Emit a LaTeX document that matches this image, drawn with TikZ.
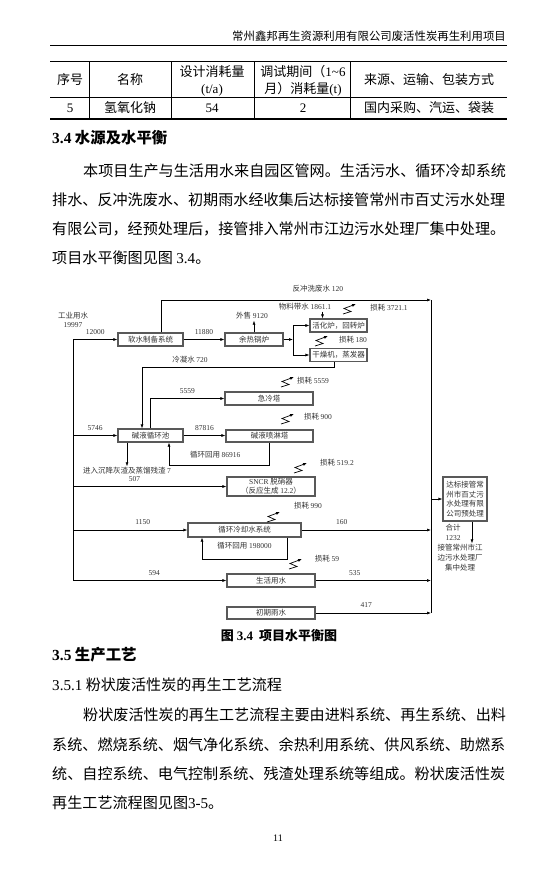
\documentclass[tikz,border=0pt]{standalone}
\usepackage{fontspec}
\setmainfont{Noto Sans CJK SC}
\newfontfamily\lat{Liberation Serif}
\usetikzlibrary{arrows.meta, positioning, calc}
\newcommand\dg[1]{{\lat #1}}
\tikzset{
  unit/.style ={rectangle, draw=black!65, line width=1.1pt, inner sep=0pt, align=center, text=black!80, font=\fontsize{7.5}{9}\selectfont},
  val/.style  ={inner sep=1pt, align=center, text=black!80, font=\fontsize{7.5}{9}\selectfont},
  fl/.style   ={-{Latex[length=4pt,width=3pt]}, line width=0.6pt},
  ln/.style   ={line width=0.6pt},
  body/.style ={anchor=west, inner sep=0pt, font=\fontsize{15.1}{18}\selectfont},
  cell/.style ={inner sep=0pt, align=center, font=\fontsize{13}{17}\selectfont},
  loss/.pic   ={\draw[-{Latex[length=4pt,width=3pt]}, line width=0.7pt] (0,0) -- (8,-2.5) -- (1,-5.5) -- (13,-10);},
}
\begin{document}
\begin{tikzpicture}[x=1pt, y=-1pt, >=Latex]
  \fill[white] (0,0) rectangle (554,882);
  \useasboundingbox (0,0) rectangle (554,882);

  % page header
  \node[anchor=east, inner sep=0pt, font=\fontsize{11.4}{12}\selectfont] (hdr) at (506,36) {常州鑫邦再生资源利用有限公司废活性炭再生利用项目};
  \draw[line width=0.8pt] (50,45) -- (507,45);

  % table
  \draw[line width=1.5pt] (50,61.7) -- (507,61.7);
  \draw[line width=0.6pt] (50,97.3) -- (507,97.3);
  \draw[line width=1.5pt] (50,119) -- (507,119);
  \foreach \x in {89,171,254,350} \draw[line width=0.6pt] (\x,61.7) -- (\x,119);
  \node[cell] (h1) at (70,80) {序号};
  \node[cell] (h2) at (130,80) {名称};
  \node[cell] (h3) at (212,80.5) {设计消耗量\\\dg{(t/a)}};
  \node[cell] (h4) at (303,80.5) {调试期间（\dg{1\textasciitilde 6}\\月）消耗量\dg{(t)}};
  \node[cell] (h5) at (429,80) {来源、运输、包装方式};
  \node[cell] (r1) at (70,108) {\dg{5}};
  \node[cell] (r2) at (130,108) {氢氧化钠};
  \node[cell] (r3) at (212,108) {\dg{54}};
  \node[cell] (r4) at (303,108) {\dg{2}};
  \node[cell] (r5) at (429,108) {国内采购、汽运、袋装};

  % section 3.4
  \node[body, font=\fontsize{15.4}{18}\selectfont\bfseries] (s34) at (52,137.7) {\dg{3.4} 水源及水平衡};
  \node[body] (p1) at (83,171) {本项目生产与生活用水来自园区管网。生活污水、循环冷却系统};
  \node[body] (p2) at (52,200) {排水、反冲洗废水、初期雨水经收集后达标接管常州市百丈污水处理};
  \node[body] (p3) at (52,229) {有限公司，经预处理后，接管排入常州市江边污水处理厂集中处理。};
  \node[body] (p4) at (52,258) {项目水平衡图见图 \dg{3.4}。};

  % water balance diagram
  \node[val] (src) at (73,319.5) {工业用水\\\dg{19997}};
  \node[unit, minimum width=65, minimum height=13] (soft) at (150.5,339.5) {软水制备系统};
  \node[unit, minimum width=58, minimum height=13] (boiler) at (254,339.5) {余热锅炉};
  \node[unit, minimum width=57, minimum height=13] (act) at (338.5,325.5) {活化炉，回转炉};
  \node[unit, minimum width=57, minimum height=13] (dry) at (338.5,355) {干燥机，蒸发器};
  \node[unit, minimum width=65, minimum height=13] (pool) at (150.5,435.5) {碱液循环池};
  \node[unit, minimum width=88, minimum height=13] (quench) at (269,398.5) {急冷塔};
  \node[unit, minimum width=87, minimum height=12] (spray) at (269.5,436) {碱液喷淋塔};
  \node[unit, minimum width=88, minimum height=19] (sncr) at (271,486.5) {\dg{SNCR} 脱硝器\\（反应生成 \dg{12.2}）};
  \node[unit, minimum width=113, minimum height=14] (cool) at (244.5,530) {循环冷却水系统};
  \node[unit, minimum width=88, minimum height=13] (life) at (271,580.5) {生活用水};
  \node[unit, minimum width=88, minimum height=12] (rain) at (271,613) {初期雨水};
  \node[unit, minimum width=44, minimum height=44, font=\fontsize{7.5}{9.7}\selectfont] (plant) at (465,499) {达标接管常\\州市百丈污\\水处理有限\\公司预处理};
  \node[val] (sale) at (252,316) {外售 \dg{9120}};
  \node[val] (feed) at (305,307) {物料带水 \dg{1861.1}};
  \node[val] (slag) at (127,471) {进入沉降灰渣及蒸馏残渣 \dg{7}};
  \node[val, font=\fontsize{7.5}{10}\selectfont] (sum) at (453,532) {合计\\\dg{1232}};
  \node[val, font=\fontsize{7.5}{10}\selectfont] (dest) at (460,558) {接管常州市江\\边污水处理厂\\集中处理};
  \coordinate (bus) at (431,300);
  \coordinate (split) at (293,339.5);
  \coordinate (cond) at (142,367);
  \coordinate (ret1) at (169,465);
  \coordinate (ret2) at (202,559);

  % losses
  \pic at (343,314) {loss};
  \node[val] (l1) at (389,308) {损耗 \dg{3721.1}};
  \pic at (315,346) {loss};
  \node[val] (l2) at (353,340) {损耗 \dg{180}};
  \pic at (281,387) {loss};
  \node[val] (l3) at (313,381) {损耗 \dg{5559}};
  \pic at (281,424) {loss};
  \node[val] (l4) at (318,417) {损耗 \dg{900}};
  \pic at (294,473) {loss};
  \node[val] (l5) at (337,463) {损耗 \dg{519.2}};
  \pic at (267,522) {loss};
  \node[val] (l6) at (308,506) {损耗 \dg{990}};
  \pic at (289,569) {loss};
  \node[val] (l7) at (327,559) {损耗 \dg{59}};

  % flows
  \draw[ln] (soft.west -| src) -- (life.west -| src);
  \draw[fl] (soft.west -| src) -- node[val, above=4pt]{\dg{12000}} (soft.west);
  \draw[fl] (pool.west -| src) -- node[val, above=4pt]{\dg{5746}} (pool.west);
  \draw[fl] (sncr.west -| src) -- node[val, above=4pt, pos=0.4]{\dg{507}} (sncr.west);
  \draw[fl] (cool.west -| src) -- node[val, above=4pt, pos=0.61]{\dg{1150}} (cool.west);
  \draw[fl] (life.west -| src) -- node[val, above=4pt, pos=0.53]{\dg{594}} (life.west);
  \draw[fl] ([xshift=11pt]soft.north) |- node[val, above=7pt, pos=0.79]{反冲洗废水 \dg{120}} (bus);
  \draw[ln] (bus) -- (rain.east -| bus);
  \draw[fl] (soft) -- node[val, above=4pt]{\dg{11880}} (boiler);
  \draw[fl] (boiler.east) -- (split);
  \draw[ln] (split |- act.west) -- (split |- dry.west);
  \draw[fl] (split |- act.west) -- (act.west);
  \draw[fl] (split |- dry.west) -- (dry.west);
  \draw[fl] (boiler.north) -- (boiler.north |- sale.south);
  \draw[fl] ([xshift=-16pt]act.north |- feed.south) -- ([xshift=-16pt]act.north);
  \draw[fl] ([xshift=-4.5pt]dry.south) |- node[val, above=3pt, pos=0.875]{冷凝水 \dg{720}} (cond) -- (cond |- pool.north);
  \draw[fl] (pool.north) |- node[val, above=4pt, pos=0.75]{\dg{5559}} (quench.west);
  \draw[fl] (pool.east) -- node[val, above=4pt]{\dg{87816}} (pool.east -| spray.west);
  \draw[fl] (spray.south) |- node[val, above=6pt, pos=0.77]{循环回用 \dg{86916}} (ret1) -- (ret1 |- pool.south);
  \draw[fl] (pool.south -| slag) -- (slag.north);
  \draw[fl] (cool.east) -- node[val, above=4pt, pos=0.31]{\dg{160}} (cool.east -| bus);
  \draw[fl] ([xshift=42.5pt]cool.south) |- node[val, above=9pt, pos=0.75]{循环回用 \dg{198000}} (ret2) -- (ret2 |- cool.south);
  \draw[fl] (life.east) -- node[val, above=4pt, pos=0.34]{\dg{535}} (life.east -| bus);
  \draw[fl] (rain.east) -- node[val, above=4pt, pos=0.44]{\dg{417}} (rain.east -| bus);
  \draw[fl] (plant.west -| bus) -- (plant.west);
  \draw[fl] ([xshift=7pt]plant.south) -- ([xshift=7pt]plant.south |- dest.north);

  % caption and section 3.5
  \node[inner sep=0pt, font=\fontsize{13}{15}\selectfont\bfseries] (cap) at (279,636) {图 \dg{3.4}\ \ 项目水平衡图};
  \node[body, font=\fontsize{15.4}{18}\selectfont\bfseries] (s35) at (52,655) {\dg{3.5} 生产工艺};
  \node[body] (s351) at (52,685) {\dg{3.5.1} 粉状废活性炭的再生工艺流程};
  \node[body] (q1) at (83,715) {粉状废活性炭的再生工艺流程主要由进料系统、再生系统、出料};
  \node[body] (q2) at (52,744.3) {系统、燃烧系统、烟气净化系统、余热利用系统、供风系统、助燃系};
  \node[body] (q3) at (52,773.6) {统、自控系统、电气控制系统、残渣处理系统等组成。粉状废活性炭};
  \node[body] (q4) at (52,803) {再生工艺流程图见图\dg{3-5}。};
  \node[inner sep=0pt, font=\lat\fontsize{10}{12}\selectfont] (pg) at (278,838) {11};
\end{tikzpicture}
\end{document}
